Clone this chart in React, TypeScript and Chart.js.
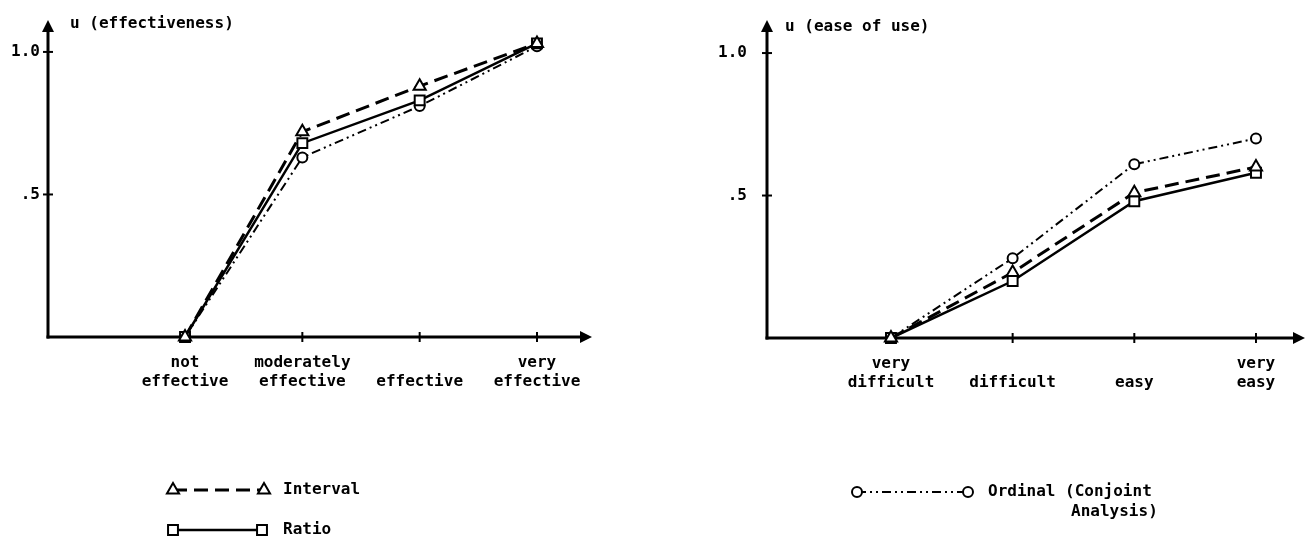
import React, { useEffect, useRef } from "react";
import { Chart, registerables } from "chart.js";

Chart.register(...registerables);

// ---------- data ----------
const effectivenessCategories = [["not", "effective"], ["moderately", "effective"], ["effective"], ["very", "effective"]];
const easeCategories = [["very", "difficult"], ["difficult"], ["easy"], ["very", "easy"]];

const yTickValues = [0.5, 1.0];
const yTickLabels = [".5", "1.0"];

const seriesNames = ["Interval", "Ratio", "Ordinal (Conjoint Analysis)"];
const ordinalLegendLines = ["Ordinal (Conjoint", "Analysis)"];

const effectivenessInterval = [0, 0.72, 0.88, 1.03];
const effectivenessRatio = [0, 0.68, 0.83, 1.03];
const effectivenessOrdinal = [0, 0.63, 0.81, 1.02];

const easeInterval = [0, 0.23, 0.51, 0.6];
const easeRatio = [0, 0.2, 0.48, 0.58];
const easeOrdinal = [0, 0.28, 0.61, 0.7];

// ---------- styles ----------
const FONT_FAMILY = "'DejaVu Sans Mono', 'Liberation Mono', monospace";
const seriesStyles = [
  { borderDash: [14, 7], borderWidth: 3, pointStyle: "triangle", pointRadius: 7 },
  { borderDash: [], borderWidth: 2.5, pointStyle: "rect", pointRadius: 7 },
  { borderDash: [9, 4, 2, 4, 2, 4], borderWidth: 2, pointStyle: "circle", pointRadius: 5 },
];

function drawMarker(ctx: CanvasRenderingContext2D, style: string, r: number, x: number, y: number) {
  ctx.beginPath();
  if (style === "circle") {
    ctx.arc(x, y, r, 0, Math.PI * 2);
  } else if (style === "rect") {
    const s = r * Math.SQRT1_2;
    ctx.rect(x - s, y - s, 2 * s, 2 * s);
  } else {
    let a = 0;
    ctx.moveTo(x + Math.sin(a) * r, y - Math.cos(a) * r);
    a += (2 * Math.PI) / 3;
    ctx.lineTo(x + Math.sin(a) * r, y - Math.cos(a) * r);
    a += (2 * Math.PI) / 3;
    ctx.lineTo(x + Math.sin(a) * r, y - Math.cos(a) * r);
    ctx.closePath();
  }
  ctx.fillStyle = "#fff";
  ctx.fill();
  ctx.setLineDash([]);
  ctx.lineWidth = 2;
  ctx.strokeStyle = "#000";
  ctx.stroke();
}

const axesPlugin = {
  id: "sketchAxes",
  beforeDatasetsDraw(chart: any, _args: any, opts: any) {
    const { ctx, chartArea } = chart;
    const { left, right, top, bottom } = chartArea;
    const xs = chart.scales.x;
    const ys = chart.scales.y;
    ctx.save();
    ctx.strokeStyle = "#000";
    ctx.fillStyle = "#000";
    ctx.setLineDash([]);
    ctx.lineWidth = 3;
    // y axis
    ctx.beginPath();
    ctx.moveTo(left, bottom + 1.5);
    ctx.lineTo(left, top + 8);
    ctx.stroke();
    ctx.beginPath();
    ctx.moveTo(left, top);
    ctx.lineTo(left - 6, top + 12);
    ctx.lineTo(left + 6, top + 12);
    ctx.closePath();
    ctx.fill();
    // x axis
    ctx.beginPath();
    ctx.moveTo(left - 1.5, bottom);
    ctx.lineTo(right - 8, bottom);
    ctx.stroke();
    ctx.beginPath();
    ctx.moveTo(right, bottom);
    ctx.lineTo(right - 12, bottom - 6);
    ctx.lineTo(right - 12, bottom + 6);
    ctx.closePath();
    ctx.fill();
    // tick marks
    ctx.lineWidth = 2;
    xs.ticks.forEach((t: any) => {
      const px = xs.getPixelForValue(t.value);
      ctx.beginPath();
      ctx.moveTo(px, bottom - 5);
      ctx.lineTo(px, bottom + 5);
      ctx.stroke();
    });
    ys.ticks.forEach((t: any) => {
      const py = ys.getPixelForValue(t.value);
      ctx.beginPath();
      ctx.moveTo(left - 5, py);
      ctx.lineTo(left + 5, py);
      ctx.stroke();
    });
    // axis title
    ctx.font = `bold 16px ${FONT_FAMILY}`;
    ctx.textBaseline = "middle";
    ctx.textAlign = "left";
    ctx.fillText(opts.title, left + opts.titleDx, opts.titleY);
    ctx.restore();
  },
};

const legendPlugin = {
  id: "sketchLegend",
  afterDraw(chart: any, _args: any, opts: any) {
    const { ctx } = chart;
    ctx.save();
    (opts.items || []).forEach((item: any) => {
      const ds = chart.data.datasets[item.dataset];
      ctx.strokeStyle = "#000";
      ctx.lineWidth = ds.borderWidth;
      ctx.setLineDash(ds.borderDash || []);
      ctx.beginPath();
      ctx.moveTo(item.x1, item.y);
      ctx.lineTo(item.x2, item.y);
      ctx.stroke();
      drawMarker(ctx, ds.pointStyle, ds.pointRadius, item.x1, item.y);
      drawMarker(ctx, ds.pointStyle, ds.pointRadius, item.x2, item.y);
      ctx.fillStyle = "#000";
      ctx.font = `bold 16px ${FONT_FAMILY}`;
      ctx.textBaseline = "middle";
      ctx.textAlign = "left";
      const lines: string[] = item.lines;
      ctx.fillText(lines[0], item.textX, item.y);
      const w0 = ctx.measureText(lines[0]).width;
      for (let i = 1; i < lines.length; i++) {
        ctx.textAlign = "right";
        ctx.fillText(lines[i], item.textX + w0 + 6, item.y + 20 * i);
      }
    });
    ctx.restore();
  },
};

type Geo = {
  width: number;
  yAxisWidth: number;
  padRight: number;
  padTop: number;
  xAxisHeight: number;
  xMin: number;
  xMax: number;
  yMax: number;
  yLabelPad: number;
  titleDx: number;
  titleY: number;
};

function SketchChart(props: {
  categories: string[][];
  series: number[][];
  geo: Geo;
  title: string;
  legend: any[];
  left: number;
}) {
  const ref = useRef<HTMLCanvasElement>(null);
  useEffect(() => {
    const { categories, series, geo, title, legend } = props;
    const font = { family: FONT_FAMILY, size: 16, weight: "bold" as const, lineHeight: 1.2 };
    const datasets = series.map((vals, k) => ({
      label: seriesNames[k],
      data: vals.map((v, i) => ({ x: i, y: v })),
      borderColor: "#000",
      backgroundColor: "#fff",
      borderWidth: seriesStyles[k].borderWidth,
      borderDash: seriesStyles[k].borderDash,
      pointStyle: seriesStyles[k].pointStyle,
      pointRadius: seriesStyles[k].pointRadius,
      pointBorderWidth: 2,
      pointBackgroundColor: "#fff",
      pointBorderColor: "#000",
      tension: 0,
      fill: false,
      clip: false as any,
    }));
    const chart = new Chart(ref.current as HTMLCanvasElement, {
      type: "line",
      data: { datasets } as any,
      options: {
        responsive: false,
        animation: false,
        events: [],
        layout: { padding: { left: 0, right: geo.padRight, top: geo.padTop, bottom: 0 } },
        plugins: {
          legend: { display: false },
          tooltip: { enabled: false },
          sketchAxes: { title, titleDx: geo.titleDx, titleY: geo.titleY },
          sketchLegend: { items: legend },
        } as any,
        scales: {
          x: {
            type: "linear",
            min: geo.xMin,
            max: geo.xMax,
            grid: { display: false, drawTicks: false },
            border: { display: false },
            afterBuildTicks: (s: any) => {
              s.ticks = categories.map((_, i) => ({ value: i }));
            },
            afterFit: (s: any) => {
              s.height = geo.xAxisHeight;
              s.paddingLeft = 0;
              s.paddingRight = 0;
              s.paddingTop = 0;
              s.paddingBottom = 0;
            },
            ticks: {
              autoSkip: false,
              maxRotation: 0,
              minRotation: 0,
              padding: 16,
              color: "#000",
              font,
              callback: (v: any) => {
                const lab = categories[Math.round(Number(v))] || [""];
                return lab.length === 1 ? ["", ...lab] : lab;
              },
            },
          },
          y: {
            type: "linear",
            min: 0,
            max: geo.yMax,
            grid: { display: false, drawTicks: false },
            border: { display: false },
            afterBuildTicks: (s: any) => {
              s.ticks = yTickValues.map((v) => ({ value: v }));
            },
            afterFit: (s: any) => {
              s.width = geo.yAxisWidth;
              s.paddingLeft = 0;
              s.paddingRight = 0;
              s.paddingTop = 0;
              s.paddingBottom = 0;
            },
            ticks: {
              padding: geo.yLabelPad,
              color: "#000",
              font,
              callback: (v: any) => {
                const i = yTickValues.indexOf(Number(v));
                return i >= 0 ? yTickLabels[i] : "";
              },
            },
          },
        },
      } as any,
      plugins: [axesPlugin, legendPlugin],
    });
    return () => chart.destroy();
  }, []);
  return (
    <canvas
      ref={ref}
      width={props.geo.width}
      height={544}
      style={{ position: "absolute", left: props.left, top: 0, width: props.geo.width, height: 544 }}
    />
  );
}

const leftGeo: Geo = {
  width: 640,
  yAxisWidth: 48,
  padRight: 48,
  padTop: 20,
  xAxisHeight: 207,
  xMin: -1.168,
  xMax: 3.469,
  yMax: 1.112,
  yLabelPad: 8,
  titleDx: 22,
  titleY: 24,
};

const rightGeo: Geo = {
  width: 674,
  yAxisWidth: 127,
  padRight: 9,
  padTop: 20,
  xAxisHeight: 206,
  xMin: -1.019,
  xMax: 3.403,
  yMax: 1.116,
  yLabelPad: 20,
  titleDx: 18,
  titleY: 27,
};

export default function App() {
  return (
    <div style={{ position: "absolute", left: 0, top: 0, width: 1314, height: 544, background: "#fff", overflow: "hidden" }}>
      <SketchChart
        categories={effectivenessCategories}
        series={[effectivenessInterval, effectivenessRatio, effectivenessOrdinal]}
        geo={leftGeo}
        title="u (effectiveness)"
        legend={[
          { dataset: 0, x1: 173, x2: 264, y: 490, textX: 283, lines: [seriesNames[0]] },
          { dataset: 1, x1: 173, x2: 262, y: 530, textX: 283, lines: [seriesNames[1]] },
        ]}
        left={0}
      />
      <SketchChart
        categories={easeCategories}
        series={[easeInterval, easeRatio, easeOrdinal]}
        geo={rightGeo}
        title="u (ease of use)"
        legend={[{ dataset: 2, x1: 217, x2: 328, y: 492, textX: 348, lines: ordinalLegendLines }]}
        left={640}
      />
    </div>
  );
}
